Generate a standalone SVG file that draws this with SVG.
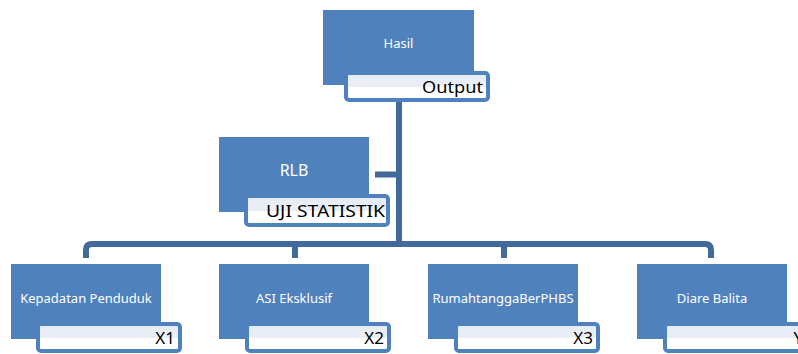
<svg xmlns="http://www.w3.org/2000/svg" width="798" height="354" viewBox="0 0 798 354">
  <defs>
    <linearGradient id="tagFill" x1="0" y1="0" x2="0" y2="1">
      <stop offset="0" stop-color="#e6ecf5"/>
      <stop offset="0.5" stop-color="#eaeff7"/>
      <stop offset="0.52" stop-color="#ffffff"/>
      <stop offset="1" stop-color="#ffffff"/>
    </linearGradient>
  </defs>
  <style>
    .box { fill: #4f81bd; }
    .tag { fill: url(#tagFill); stroke: #4f81bd; stroke-width: 4; }
    .name { fill: #ffffff; font-family: "Noto Sans", "Open Sans", sans-serif; font-size: 13px; text-anchor: middle; }
    .tagtxt { fill: #000000; font-family: "Noto Sans", "Open Sans", sans-serif; font-size: 17px; text-anchor: end; }
    .wire { fill: none; stroke: #41699a; stroke-width: 6; stroke-linejoin: round; }
  </style>

  <!-- connectors -->
  <g id="connectors">
    <path class="wire" d="M399,85 V244"/>
    <path class="wire" d="M375,174.5 H399"/>
    <path class="wire" d="M86,258 V250 Q86,244 92,244 H705 Q711,244 711,250 V258"/>
    <path class="wire" d="M295,244 V258"/>
    <path class="wire" d="M504,244 V258"/>
  </g>

  <!-- top node -->
  <g id="node-hasil">
    <rect class="box" x="323" y="10" width="151" height="75"/>
    <text class="name" x="398.5" y="48">Hasil</text>
    <rect class="tag" x="346" y="73" width="142" height="27" rx="3"/>
    <text class="tagtxt" x="483" y="93" textLength="61" lengthAdjust="spacingAndGlyphs">Output</text>
  </g>

  <!-- middle node -->
  <g id="node-rlb">
    <rect class="box" x="219" y="137" width="150" height="75"/>
    <text class="name" x="294" y="176" style="font-size:16px">RLB</text>
    <rect class="tag" x="246" y="196" width="142" height="29" rx="3"/>
    <text class="tagtxt" x="385" y="217" textLength="119" lengthAdjust="spacingAndGlyphs">UJI STATISTIK</text>
  </g>

  <!-- bottom row -->
  <g id="node-x1">
    <rect class="box" x="11" y="264" width="150" height="75"/>
    <text class="name" x="86" y="303">Kepadatan Penduduk</text>
    <rect class="tag" x="38" y="324" width="142" height="27" rx="3"/>
    <text class="tagtxt" x="175" y="344">X1</text>
  </g>

  <g id="node-x2">
    <rect class="box" x="219" y="264" width="150" height="75"/>
    <text class="name" x="294" y="303">ASI Eksklusif</text>
    <rect class="tag" x="247" y="324" width="142" height="27" rx="3"/>
    <text class="tagtxt" x="384" y="344">X2</text>
  </g>

  <g id="node-x3">
    <rect class="box" x="428" y="264" width="150" height="75"/>
    <text class="name" x="503" y="303">RumahtanggaBerPHBS</text>
    <rect class="tag" x="456" y="324" width="142" height="27" rx="3"/>
    <text class="tagtxt" x="593" y="344">X3</text>
  </g>

  <g id="node-y">
    <rect class="box" x="637" y="264" width="150" height="75"/>
    <text class="name" x="712" y="303">Diare Balita</text>
    <rect class="tag" x="665" y="324" width="142" height="27" rx="3"/>
    <text class="tagtxt" x="803" y="344">Y</text>
  </g>
</svg>
